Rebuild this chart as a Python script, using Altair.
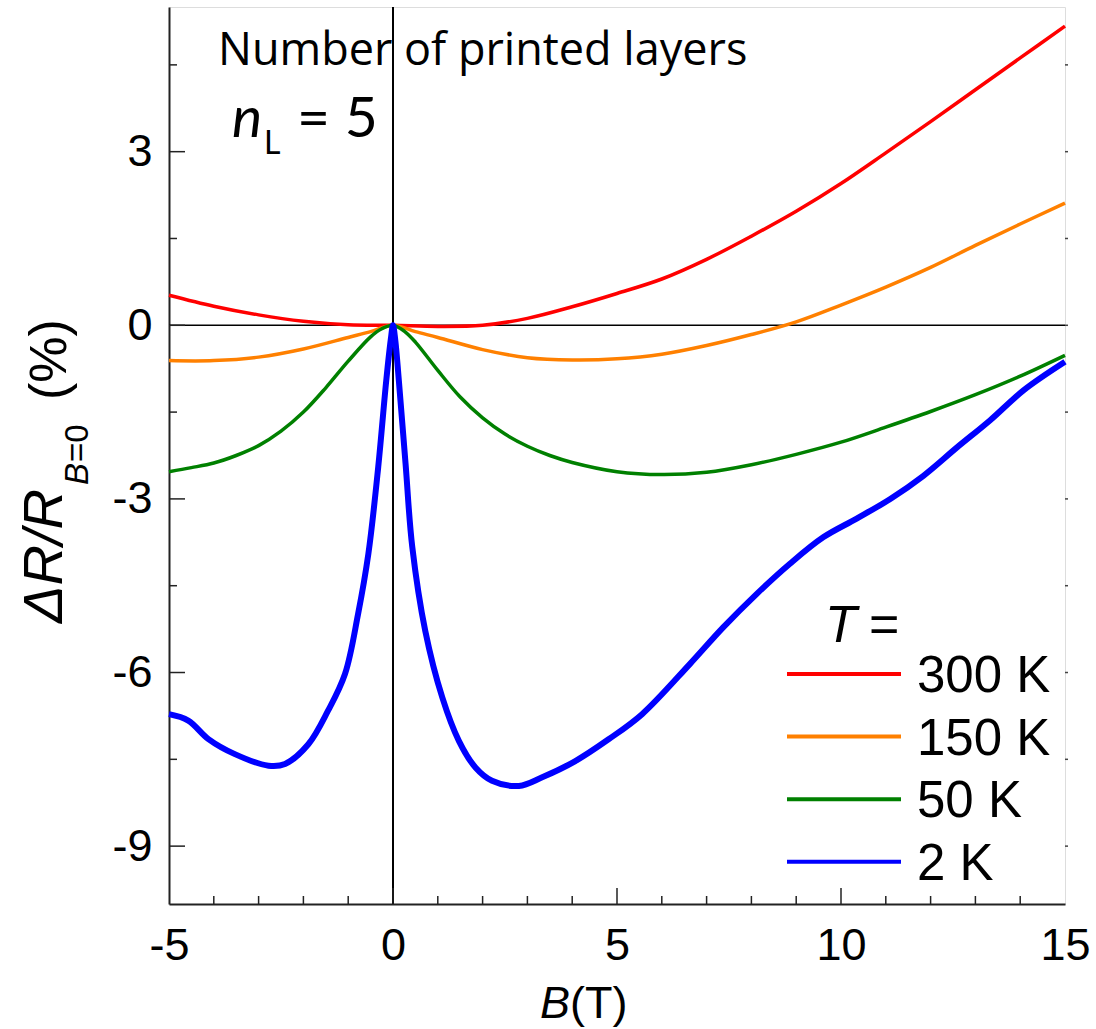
import altair as alt
import pandas as pd

# ---------------- data ----------------
B_300 = [-5, -4, -3, -2, -1, 0, 1, 2, 3, 4, 5, 6, 7, 8, 9, 10, 11, 12, 13, 14, 15]
R_300 = [0.52, 0.33, 0.18, 0.07, 0.01, 0.0, -0.02, 0.0, 0.12, 0.32, 0.55, 0.80, 1.14, 1.54,
         1.97, 2.45, 2.98, 3.52, 4.07, 4.62, 5.17]

B_150 = [-5, -4, -3, -2, -1, -0.5, 0, 0.5, 1, 2, 3, 4, 5, 6, 7, 8, 9, 10, 11, 12, 13, 14, 15]
R_150 = [-0.61, -0.61, -0.55, -0.41, -0.21, -0.11, 0.0, -0.11, -0.21, -0.42, -0.56, -0.60,
         -0.58, -0.50, -0.35, -0.16, 0.06, 0.35, 0.66, 1.00, 1.38, 1.75, 2.11]

B_50 = [-5, -4.5, -4, -3.5, -3, -2.5, -2, -1.5, -1, -0.5, -0.25, 0, 0.25, 0.5, 1, 1.5, 2, 2.5,
        3, 3.5, 4, 5, 6, 7, 8, 9, 10, 11, 12, 13, 14, 15]
R_50 = [-2.53, -2.46, -2.38, -2.25, -2.08, -1.83, -1.50, -1.08, -0.62, -0.20, -0.06, 0.0,
        -0.10, -0.29, -0.78, -1.24, -1.60, -1.88, -2.09, -2.25, -2.37, -2.53, -2.58, -2.54,
        -2.41, -2.23, -2.02, -1.76, -1.49, -1.20, -0.88, -0.52]

B_2 = [-5, -4.57, -4.12, -3.53, -2.78, -2.41, -1.89, -1.45, -1.07, -0.78, -0.55, -0.33, -0.15,
       -0.05, 0, 0.05, 0.13, 0.28, 0.43, 0.72, 1.1, 1.47, 1.84, 2.21, 2.81, 3.33, 4.07, 4.82,
       5.56, 6.63, 7.37, 8.12, 8.86, 9.61, 10.35, 11.1, 11.84, 12.59, 13.33, 14.08, 15]
R_2 = [-6.72, -6.83, -7.15, -7.41, -7.61, -7.58, -7.24, -6.66, -6.02, -4.99, -3.95, -2.45,
       -0.95, -0.25, 0.0, -0.25, -0.95, -2.39, -3.83, -5.28, -6.43, -7.18, -7.64, -7.87, -7.96,
       -7.81, -7.53, -7.15, -6.72, -5.85, -5.22, -4.64, -4.12, -3.66, -3.34, -3.00, -2.60,
       -2.11, -1.64, -1.12, -0.63]

SERIES = ["300 K", "150 K", "50 K", "2 K"]
COLORS = ["#ff0000", "#ff8000", "#008000", "#0000ff"]
WIDTHS = [3.5, 3.5, 3.5, 6]
DATA = [(B_300, R_300), (B_150, R_150), (B_50, R_50), (B_2, R_2)]

X_TICKS = [-5, 0, 5, 10, 15]
Y_TICKS = [-9, -6, -3, 0, 3]
X_MINOR = [-4, -3, -2, -1, 1, 2, 3, 4, 6, 7, 8, 9, 11, 12, 13, 14]
X_MAJOR_IN = [0, 5, 10]
Y_MINOR = [-7.5, -4.5, -1.5, 1.5, 4.5]
Y_RIGHT = [-9, -7.5, -6, -4.5, -3, -1.5, 0, 1.5, 3, 4.5]

# ---------------- layout ----------------
W, H = 896, 897
FONT = "Liberation Sans, Arial"
CAL = "Lato"

xs = alt.Scale(domain=[-5, 15], nice=False, zero=False)
ys = alt.Scale(domain=[-10, 5.5], nice=False, zero=False)

xaxis = alt.Axis(values=X_TICKS, ticks=False, tickSize=0, grid=False, title=None,
                 labelFontSize=45, labelFont=FONT, labelColor="black", labelPadding=19,
                 labelFlush=False, labelOverlap=False, labelExpr="'' + datum.value",
                 domainColor="#222", domainWidth=2)
yaxis = alt.Axis(values=Y_TICKS, ticks=False, tickSize=0, grid=False, title=None,
                 labelFontSize=45, labelFont=FONT, labelColor="black", labelPadding=17,
                 labelFlush=False, labelOverlap=False, labelExpr="'' + datum.value",
                 domainColor="#222", domainWidth=2)


def X(field):
    return alt.X(field, type="quantitative", scale=xs, axis=xaxis)


def Y(field):
    return alt.Y(field, type="quantitative", scale=ys, axis=yaxis)


layers = []

zero = pd.DataFrame({"v": [0]})
layers.append(alt.Chart(zero).mark_rule(color="black", strokeWidth=1.5).encode(
    y=Y("v"), x=alt.value(0), x2=alt.value(W)))
layers.append(alt.Chart(zero).mark_rule(color="black", strokeWidth=2).encode(
    x=X("v"), y=alt.value(0), y2=alt.value(H)))

# inward ticks
layers.append(alt.Chart(pd.DataFrame({"v": X_MINOR})).mark_rule(color="#222", strokeWidth=1.5).encode(
    x=X("v"), y=alt.value(H), y2=alt.value(H - 8)))
layers.append(alt.Chart(pd.DataFrame({"v": X_MAJOR_IN})).mark_rule(color="#222", strokeWidth=1.5).encode(
    x=X("v"), y=alt.value(H), y2=alt.value(H - 16)))
layers.append(alt.Chart(pd.DataFrame({"v": Y_TICKS})).mark_rule(color="#222", strokeWidth=1.5).encode(
    y=Y("v"), x=alt.value(0), x2=alt.value(16)))
layers.append(alt.Chart(pd.DataFrame({"v": Y_MINOR})).mark_rule(color="#222", strokeWidth=1.5).encode(
    y=Y("v"), x=alt.value(0), x2=alt.value(8)))
layers.append(alt.Chart(pd.DataFrame({"v": Y_RIGHT})).mark_rule(color="#444", strokeWidth=1.5).encode(
    y=Y("v"), x=alt.value(W), x2=alt.value(W + 3)))

# curves
for name, (bs, rs), c, w in zip(SERIES, DATA, COLORS, WIDTHS):
    df = pd.DataFrame({"B": bs, "R": rs, "T": name})
    layers.append(alt.Chart(df).mark_line(color=c, strokeWidth=w, interpolate="catmull-rom").encode(
        x=X("B"), y=Y("R"), detail="T:N"))

one = pd.DataFrame({"a": [0]})


def txt(text, x, y, size, font=FONT, style="normal", angle=0, align="left"):
    return alt.Chart(one).mark_text(text=text, font=font, fontSize=size, fontStyle=style,
                                    angle=angle, align=align, baseline="alphabetic",
                                    color="black").encode(x=alt.value(x), y=alt.value(y))


# legend
LEG_X0, LEG_X1, LEG_Y0, LEG_DY = 618, 732, 667, 62.6
for i, (name, c) in enumerate(zip(SERIES, COLORS)):
    yy = LEG_Y0 + i * LEG_DY
    layers.append(alt.Chart(one).mark_rule(color=c, strokeWidth=4).encode(
        x=alt.value(LEG_X0), x2=alt.value(LEG_X1), y=alt.value(yy)))
    layers.append(txt(name, 748, yy + 18, 51))
layers.append(txt("T", 656, 635, 52, style="italic"))
layers.append(txt("=", 700, 635, 52))

# annotation
layers.append(txt("Number of printed layers", 49, 58, 45, font="Open Sans"))
layers.append(txt("n", 63, 130, 57, font=CAL, style="italic"))
layers.append(txt("L", 95, 147, 32, font=CAL))
layers.append(txt("= 5", 128, 130, 57, font=CAL))

# axis titles
layers.append(txt("B", 371, 1011, 45, style="italic"))
layers.append(txt("(T)", 401, 1011, 45))
layers.append(txt("\u0394R/R", -107, 616, 56, style="italic", angle=270))
layers.append(txt("B", -81, 478, 33, style="italic", angle=270))
layers.append(txt("=0", -81, 455, 33, angle=270))
layers.append(txt("(%)", -103, 393, 52, angle=270))

chart = alt.layer(*layers).properties(
    width=W, height=H,
    padding={"left": 169, "top": 7, "right": 31, "bottom": 125},
    autosize=alt.AutoSizeParams(type="none"),
).configure_view(stroke="#444", strokeWidth=1.5).configure(background="white")

chart.save("out.html", embed_options={"renderer": "svg", "actions": False})
